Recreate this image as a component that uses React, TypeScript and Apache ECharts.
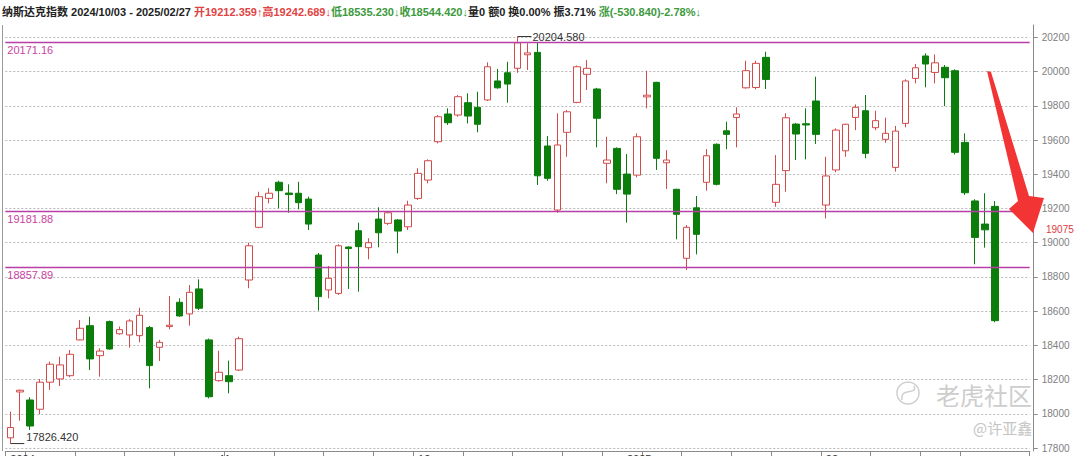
import { useEffect, useRef } from "react";
import * as echarts from "echarts";

// Trading days shown on the chart
const DATES = [
  "2024/10/03", "2024/10/04", "2024/10/07", "2024/10/08", "2024/10/09", "2024/10/10", "2024/10/11",
  "2024/10/14", "2024/10/15", "2024/10/16", "2024/10/17", "2024/10/18", "2024/10/21", "2024/10/22",
  "2024/10/23", "2024/10/24", "2024/10/25", "2024/10/28", "2024/10/29", "2024/10/30", "2024/10/31",
  "2024/11/01", "2024/11/04", "2024/11/05", "2024/11/06", "2024/11/07", "2024/11/08", "2024/11/11",
  "2024/11/12", "2024/11/13", "2024/11/14", "2024/11/15", "2024/11/18", "2024/11/19", "2024/11/20",
  "2024/11/21", "2024/11/22", "2024/11/25", "2024/11/26", "2024/11/27", "2024/11/29",
  "2024/12/02", "2024/12/03", "2024/12/04", "2024/12/05", "2024/12/06", "2024/12/09", "2024/12/10",
  "2024/12/11", "2024/12/12", "2024/12/13", "2024/12/16", "2024/12/17", "2024/12/18", "2024/12/19",
  "2024/12/20", "2024/12/23", "2024/12/24", "2024/12/26", "2024/12/27", "2024/12/30", "2024/12/31",
  "2025/01/02", "2025/01/03", "2025/01/06", "2025/01/07", "2025/01/08", "2025/01/10", "2025/01/13",
  "2025/01/14", "2025/01/15", "2025/01/16", "2025/01/17", "2025/01/21", "2025/01/22", "2025/01/23",
  "2025/01/24", "2025/01/27", "2025/01/28", "2025/01/29", "2025/01/30", "2025/01/31",
  "2025/02/03", "2025/02/04", "2025/02/05", "2025/02/06", "2025/02/07", "2025/02/10", "2025/02/11",
  "2025/02/12", "2025/02/13", "2025/02/14", "2025/02/18", "2025/02/19", "2025/02/20", "2025/02/21",
  "2025/02/24", "2025/02/25", "2025/02/26", "2025/02/27",
];

const OPEN = [
  17860, 18128, 18081, 18027, 18185, 18204, 18223, 18432, 18515, 18340,
  18539, 18468, 18461, 18457, 18504, 18389, 18510, 18652, 18584, 18730,
  18432, 18194, 18223, 18256, 18782, 19090, 19259, 19353, 19290, 19289,
  19255, 18928, 18724, 18704, 18975, 19070, 18971, 19138, 19113, 19133,
  19093, 19259, 19366, 19590, 19752, 19746, 19818, 19791, 19834, 19945,
  19993, 20019, 20098, 20112, 19565, 19191, 19645, 19820, 19984, 19898,
  19464, 19551, 19401, 19395, 19852, 19937, 19467, 19312, 18909, 19204,
  19353, 19575, 19654, 19732, 19905, 19907, 20083, 19236, 19421, 19693,
  19695, 19828, 19220, 19425, 19537, 19732, 19771, 19672, 19604, 19440,
  19697, 19960, 20091, 19995, 20025, 20005, 19586, 19244, 19109, 19212.359,
];

const CLOSE = [
  17920, 18138, 17929, 18185, 18290, 18286, 18348, 18500, 18321, 18367,
  18379, 18492, 18543, 18576, 18282, 18418, 18518, 18572, 18710, 18617,
  18100, 18243, 18188, 18439, 18982, 19269, 19289, 19304, 19281, 19234,
  19109, 18685, 18792, 18982, 18966, 18977, 19000, 19058, 19175, 19068,
  19220, 19405, 19479, 19736, 19701, 19853, 19740, 19692, 20028, 19905,
  19927, 20168, 20109, 19391, 19376, 19571, 19765, 20028, 20019, 19727,
  19483, 19312, 19284, 19619, 19862, 19493, 19483, 19166, 19090, 19049,
  19508, 19341, 19633, 19752, 20005, 20048, 19954, 19341, 19730, 19635,
  19688, 19633, 19390, 19658, 19692, 19791, 19522, 19713, 19639, 19652,
  19945, 20022, 20044, 20051, 19964, 19528, 19292, 19031, 19075.26, 18544.42,
];

const LOW = [
  17826.42, 17960, 17906, 17998, 18140, 18163, 18214, 18430, 18256, 18217,
  18375, 18463, 18387, 18418, 18149, 18309, 18494, 18568, 18515, 18607,
  18091, 18188, 18120, 18250, 18734, 19085, 19230, 19201, 19175, 19195,
  19074, 18603, 18675, 18695, 18730, 18714, 18903, 18973, 19103, 18938,
  19074, 19249, 19347, 19580, 19688, 19736, 19697, 19645, 19828, 19900,
  19818, 19993, 20009, 19337, 19362, 19175, 19502, 19815, 19892, 19557,
  19347, 19284, 19117, 19382, 19785, 19425, 19314, 19020, 18840, 18932,
  19304, 19335, 19546, 19557, 19900, 19896, 19898, 19210, 19298, 19483,
  19487, 19577, 19142, 19411, 19502, 19658, 19493, 19658, 19584, 19415,
  19674, 19931, 19908, 19931, 19798, 19516, 19279, 18874, 18971, 18535.23,
];

const HIGH = [
  18013, 18142, 18097, 18204, 18305, 18334, 18373, 18548, 18568, 18383,
  18545, 18510, 18553, 18620, 18514, 18432, 18689, 18675, 18753, 18786,
  18440, 18369, 18311, 18451, 19000, 19298, 19318, 19362, 19341, 19356,
  19269, 18940, 18864, 18991, 18978, 19117, 19026, 19207, 19185, 19138,
  19245, 19435, 19487, 19746, 19785, 19863, 19873, 19882, 20054, 20015,
  20057, 20204.58, 20165, 20168, 19623, 19756, 19775, 20035, 20067, 19905,
  19619, 19557, 19518, 19639, 20005, 19940, 19541, 19315, 19103, 19273,
  19547, 19580, 19707, 19791, 20063, 20063, 20116, 19512, 19756, 19700,
  19785, 19970, 19502, 19668, 19695, 19808, 19863, 19771, 19730, 19682,
  19955, 20044, 20106, 20100, 20038, 20013, 19639, 19254, 19289, 19242.689,
];

// Horizontal reference levels
const LEVELS = [20171.16, 19181.88, 18857.89];

// Price axis ticks
const Y_TICKS = [17800, 18000, 18200, 18400, 18600, 18800, 19000, 19200, 19400, 19600, 19800, 20000, 20200];

// Month marks on the time axis
const X_LABEL_IDX = [0, 21, 41, 62, 82];
const X_LABEL_TEXT = ["2024", "11", "12", "2025", "02"];

// Empty slots after the last session
const PAD = [" ", "  ", "   "];

const FONT = "'Liberation Sans', Arial, 'Noto Sans CJK SC', sans-serif";
const CJK = "'Noto Sans CJK SC', 'Liberation Sans', sans-serif";

const UP = "#d24a4a";
const DOWN = "#0a7d0a";
const LEVEL_LINE = "#b83fa8";
const LEVEL_TEXT = "#cc3f9f";

export default function App() {
  const ref = useRef<HTMLDivElement>(null);

  useEffect(() => {
    document.body.style.margin = "0";
    const chart = echarts.init(ref.current!, null, { renderer: "svg" });

    const n = DATES.length;
    const last = n - 1;
    const prevClose = CLOSE[last - 1];
    const change = CLOSE[last] - prevClose;
    const pct = (change / prevClose) * 100;
    const amp = ((HIGH[last] - LOW[last]) / prevClose) * 100;

    const weekStart = DATES.map(
      (d, i) => i === 0 || new Date(d).getDay() < new Date(DATES[i - 1]).getDay()
    );

    const candles = DATES.map((_, i) => [OPEN[i], CLOSE[i], LOW[i], HIGH[i]]);

    const header =
      `{d|纳斯达克指数 ${DATES[0]} - ${DATES[last]} }` +
      `{r|开${OPEN[last].toFixed(3)}↑高${HIGH[last].toFixed(3)}↓}` +
      `{g|低${LOW[last].toFixed(3)}↓收${CLOSE[last].toFixed(3)}↓}` +
      `{d|量0 额0 换0.00% 振${amp.toFixed(2)}% }` +
      `{g|涨(${change.toFixed(3)})${pct.toFixed(2)}%↓}`;

    chart.setOption({
      animation: false,
      backgroundColor: "#ffffff",
      title: {
        text: header,
        left: 2,
        top: 6,
        padding: 0,
        textStyle: {
          fontSize: 11,
          fontFamily: FONT,
          rich: {
            d: { color: "#222222", fontSize: 11, fontFamily: FONT },
            r: { color: "#e04444", fontSize: 11, fontFamily: FONT },
            g: { color: "#3c9a3c", fontSize: 11, fontFamily: FONT },
          },
        },
      },
      grid: { left: 5.3, right: 50.3, top: 25, bottom: 5, outerBoundsMode: "none", containLabel: false },
      xAxis: {
        type: "category",
        data: [...DATES, ...PAD],
        boundaryGap: true,
        axisLine: { show: true, lineStyle: { color: "#8a8a8a", width: 1 } },
        axisTick: {
          show: true,
          length: 6,
          interval: (i: number) => i < n && weekStart[i],
          lineStyle: { color: "#8a8a8a" },
        },
        axisLabel: {
          show: true,
          interval: (i: number) => X_LABEL_IDX.includes(i),
          formatter: (_v: string, i: number) => X_LABEL_TEXT[X_LABEL_IDX.indexOf(i)] ?? "",
          margin: 2,
          fontSize: 11,
          color: "#333333",
          fontFamily: FONT,
          align: "left",
        },
        splitLine: { show: false },
      },
      yAxis: {
        type: "value",
        position: "right",
        offset: 4,
        min: 17783,
        max: 20272,
        axisLine: { show: true, lineStyle: { color: "#8a8a8a" } },
        axisTick: { show: true, length: 4, customValues: Y_TICKS, lineStyle: { color: "#8a8a8a" } },
        axisLabel: {
          customValues: Y_TICKS,
          formatter: (v: number) => String(v),
          color: "#808080",
          fontSize: 10,
          margin: 8,
          fontFamily: FONT,
        },
        splitLine: { show: true, lineStyle: { color: "#b8b8b8", type: [2, 2], width: 1 } },
      },
      series: [
        {
          type: "candlestick",
          data: candles,
          barWidth: 7,
          itemStyle: {
            color: "#ffffff",
            color0: DOWN,
            borderColor: UP,
            borderColor0: DOWN,
            borderWidth: 1,
          },
          markLine: {
            silent: true,
            symbol: ["none", "none"],
            animation: false,
            lineStyle: { color: LEVEL_LINE, width: 1.3, type: "solid", opacity: 1 },
            label: {
              show: true,
              position: "insideStartBottom",
              color: LEVEL_TEXT,
              fontSize: 11,
              fontFamily: FONT,
              distance: 2,
            },
            data: LEVELS.map((v) => ({
              yAxis: v,
              label: { formatter: v.toFixed(2) },
            })),
          },
        },
      ],
    });

    // Extreme-value callouts and the previous-close tag
    const hiIdx = HIGH.indexOf(Math.max(...HIGH));
    const loIdx = LOW.indexOf(Math.min(...LOW));
    const hp = chart.convertToPixel({ seriesIndex: 0 }, [hiIdx, HIGH[hiIdx]]) as number[];
    const lp = chart.convertToPixel({ seriesIndex: 0 }, [loIdx, LOW[loIdx]]) as number[];
    const pcY = chart.convertToPixel({ yAxisIndex: 0 }, prevClose) as number;

    chart.setOption({
      graphic: [
        // left frame
        {
          type: "line",
          silent: true,
          shape: { x1: 2.5, y1: 25, x2: 2.5, y2: 451 },
          style: { stroke: "#9a9a9a", lineWidth: 1 },
        },
        // previous close on the price axis
        {
          type: "text",
          silent: true,
          x: 1046,
          y: pcY,
          style: {
            text: String(Math.floor(prevClose)),
            fill: "#e0393e",
            font: `10px ${FONT}`,
            verticalAlign: "middle",
          },
        },
        // high callout
        {
          type: "line",
          silent: true,
          shape: { x1: hp[0], y1: hp[1], x2: hp[0] + 14, y2: hp[1] },
          style: { stroke: "#333333", lineWidth: 1 },
        },
        {
          type: "text",
          silent: true,
          x: hp[0] + 15,
          y: hp[1],
          style: {
            text: HIGH[hiIdx].toFixed(3),
            fill: "#333333",
            font: `11px ${FONT}`,
            verticalAlign: "middle",
          },
        },
        // low callout
        {
          type: "line",
          silent: true,
          shape: { x1: lp[0], y1: lp[1], x2: lp[0] + 14, y2: lp[1] },
          style: { stroke: "#333333", lineWidth: 1 },
        },
        {
          type: "text",
          silent: true,
          x: lp[0] + 16,
          y: lp[1] - 1,
          style: {
            text: LOW[loIdx].toFixed(3),
            fill: "#333333",
            font: `11px ${FONT}`,
            verticalAlign: "bottom",
          },
        },
        // red arrow
        {
          type: "polygon",
          silent: true,
          z: 20,
          shape: {
            points: [
              [987, 71],
              [991, 72],
              [1029, 196],
              [1044, 198],
              [1033, 233],
              [1009, 209],
              [1018, 201],
            ],
          },
          style: { fill: "#f23434" },
        },
        // watermark
        {
          type: "circle",
          silent: true,
          shape: { cx: 908, cy: 393, r: 11 },
          style: { fill: "none", stroke: "#cfcfcf", lineWidth: 1.5 },
        },
        {
          type: "bezierCurve",
          silent: true,
          shape: { x1: 902, y1: 400, x2: 914, y2: 386, cpx1: 900, cpy1: 386, cpx2: 918, cpy2: 396 },
          style: { fill: "none", stroke: "#cfcfcf", lineWidth: 1.5 },
        },
        {
          type: "text",
          silent: true,
          x: 936,
          y: 394,
          style: {
            text: "老虎社区",
            fill: "#cdcdcd",
            font: `24px ${CJK}`,
            verticalAlign: "middle",
          },
        },
        {
          type: "text",
          silent: true,
          x: 973,
          y: 427,
          style: {
            text: "@许亚鑫",
            fill: "#c4c4c4",
            font: `15px ${CJK}`,
            verticalAlign: "middle",
          },
        },
      ],
    });

    return () => chart.dispose();
  }, []);

  return <div ref={ref} style={{ width: 1080, height: 456 }} />;
}
